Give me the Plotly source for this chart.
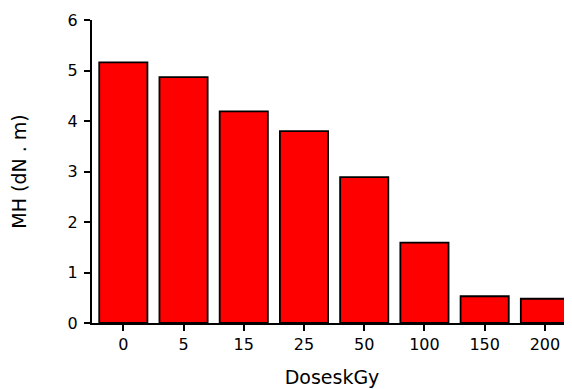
import plotly.graph_objects as go

doses = ["0", "5", "15", "25", "50", "100", "150", "200"]
mh = [5.16, 4.87, 4.19, 3.80, 2.89, 1.59, 0.53, 0.48]

fig = go.Figure(
    go.Bar(
        x=doses,
        y=mh,
        width=0.8,
        marker=dict(color="#FF0000", line=dict(color="black", width=1.8)),
        cliponaxis=False,
    )
)

font = "DejaVu Sans, Verdana, Arial, sans-serif"
# the page body has an 8px margin, so the figure is sized to fit the window
fig.update_layout(
    width=564,
    height=381,
    margin=dict(l=84, r=0, t=11.5, b=65.5, autoexpand=False),
    paper_bgcolor="white",
    plot_bgcolor="white",
    showlegend=False,
    font=dict(family=font, color="black", size=16),
)
fig.update_xaxes(
    type="category",
    range=[-0.52, 7.45],
    automargin=False,
    showline=True,
    linecolor="black",
    linewidth=2,
    ticks="outside",
    ticklen=6,
    tickwidth=2,
    tickcolor="black",
    showgrid=False,
    tickfont=dict(size=16),
    title=dict(text="DoseskGy", font=dict(size=19), standoff=17),
)
fig.update_yaxes(
    range=[0, 6],
    tickvals=[0, 1, 2, 3, 4, 5, 6],
    automargin=False,
    showline=True,
    linecolor="black",
    linewidth=2,
    ticks="outside",
    ticklen=6,
    tickwidth=2,
    tickcolor="black",
    showgrid=False,
    zeroline=False,
    tickfont=dict(size=16),
    ticklabelstandoff=3,
    title=dict(text="MH (dN . m)", font=dict(size=19), standoff=40),
)

fig.write_html("out.html")
